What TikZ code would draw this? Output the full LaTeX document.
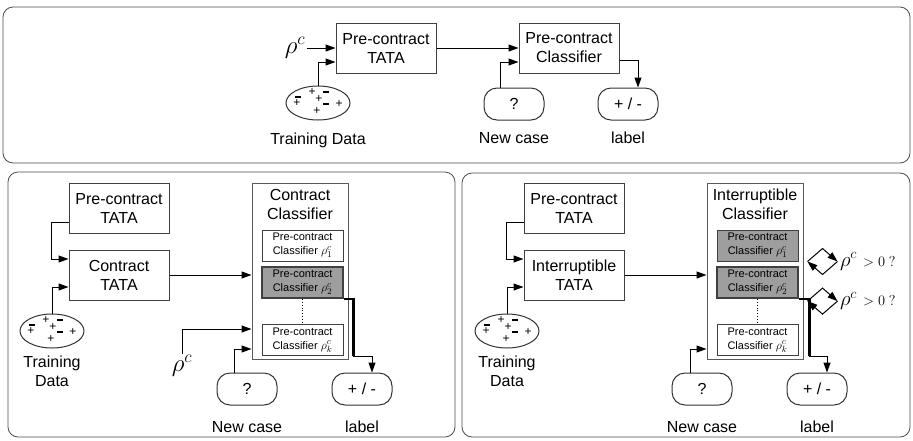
\documentclass[tikz,border=0pt]{standalone}
\usepackage[no-math]{fontspec}
\setmainfont{Liberation Sans}
\usetikzlibrary{arrows.meta,positioning,shapes.geometric,calc}

% scattered +/- signs inside a training data ellipse
\newcommand{\datasigns}[1]{%
\node[sgn] at ([shift={(-6,-11)}]#1.center) {+};
\node[sgn] at ([shift={(8,-11)}]#1.center) {\rule{6pt}{2pt}};
\node[sgn] at ([shift={(-20,-6)}]#1.center) {\rule{6pt}{2pt}};
\node[sgn] at ([shift={(-21,0)}]#1.center) {+};
\node[sgn] at ([shift={(1,-4)}]#1.center) {+};
\node[sgn] at ([shift={(8,1)}]#1.center) {\rule{6pt}{2pt}};
\node[sgn] at ([shift={(21,1)}]#1.center) {+};
\node[sgn] at ([shift={(-1,8)}]#1.center) {+};
}

\begin{document}
\begin{tikzpicture}[x=1pt, y=-1pt, >={Triangle[length=10pt,width=7pt]}, line width=1pt, font=\fontsize{16}{19}\selectfont]
\tikzstyle{panel}=[draw=black!70, rounded corners=10pt, line width=0.8pt]
\tikzstyle{tata}=[draw=black!75, minimum width=100pt, minimum height=50pt, align=center, inner sep=0pt]
\tikzstyle{outer}=[draw=black!65, minimum width=96pt, minimum height=176pt, inner sep=0pt]
\tikzstyle{ttl}=[align=center, inner sep=0pt]
\tikzstyle{sub}=[draw=black!75, minimum width=81pt, minimum height=31pt, align=center, inner sep=0pt, font=\fontsize{11}{14}\selectfont]
\tikzstyle{hit}=[fill=black!38]
\tikzstyle{thk}=[line width=2.6pt]
\tikzstyle{rbox}=[draw=black!80, rounded corners=13pt, minimum width=60pt, minimum height=32pt, inner sep=0pt]
\tikzstyle{data}=[draw=black!80, ellipse, minimum width=64pt, minimum height=34pt, inner sep=0pt]
\tikzstyle{sgn}=[inner sep=0pt, font=\fontsize{12}{12}\selectfont]
\tikzstyle{capt}=[align=center]
\tikzstyle{rho}=[inner sep=1pt, font=\fontsize{23}{23}\selectfont]
\tikzstyle{bigrho}=[inner sep=1pt, font=\fontsize{25}{25}\selectfont]
\useasboundingbox (0,0) rectangle (913,440);
%
% top: pre-contract
\draw[panel] (3,7) rectangle (910,163);
\node[tata]    (ptata) at (386,48)           {Pre-contract\\TATA};
\node[tata]    (pcls)  [right=82pt of ptata] {Pre-contract\\Classifier};
\node[rho]     (rho)   at (295,48)           {$\rho^c$};
\node[data]    (td)    at (318,103)          {};
\datasigns{td}
\node[capt]    (tdc)   [below=9pt of td]     {Training Data};
\node[rbox]    (q)     at (514,104)          {?};
\node[rbox]    (lab)   at (628,104)          {+ / -};
\node[capt]    (qc)    [below=8pt of q]      {New case};
\node[capt]    (labc)  [below=8pt of lab]    {label};
\draw[->] (rho.east) -- (rho.east -| ptata.west);
\draw[->] (td.north) |- ([yshift=-14pt]ptata.west);
\draw[->] (ptata) -- (pcls);
\draw[->] ([xshift=-14pt]q.north) |- ([yshift=-14pt]pcls.west);
\draw[->] ([yshift=-12pt]pcls.east) -| ([xshift=10pt]lab.north);
%
% bottom left: contract
\draw[panel] (8,172) rectangle (455,437);
\node[tata]    (lpt)   at (119,208)          {Pre-contract\\TATA};
\node[tata]    (lct)   [below=16pt of lpt]   {Contract\\TATA};
\node[data]    (ltd)   at (52,331)           {};
\datasigns{ltd}
\node[capt]    (ltdc)  [below=4pt of ltd]    {Training\\Data};
\node[outer]   (lcc)   at (300,271)          {};
\node[ttl]     (lcct)  [below=6pt of lcc.north] {Contract\\Classifier};
\node[sub]     (lc1)   at (302.5,245.5)      {Pre-contract\\Classifier {\fontsize{13}{13}\selectfont$\rho_1^c$}};
\node[sub,hit,thk] (lc2) [below=4pt of lc1]  {Pre-contract\\Classifier {\fontsize{13}{13}\selectfont$\rho_2^c$}};
\node[sub]     (lck)   [below=25pt of lc2]   {Pre-contract\\Classifier {\fontsize{13}{13}\selectfont$\rho_k^c$}};
\node[bigrho]  (lrho)  at (182,366)          {$\rho^c$};
\node[rbox]    (lq)    at (247,389)          {?};
\node[rbox]    (llab)  at (362,389)          {+ / -};
\node[capt]    (lqc)   [below=12pt of lq]    {New case};
\node[capt]    (llabc) [below=12pt of llab]  {label};
\draw[->] ([yshift=-14pt]lpt.west) -- ++(-17,0) |- ([yshift=16pt]lct.west);
\draw[->] (ltd.north) |- ([yshift=-12pt]lct.west);
\draw[->] (lct.east) -- (lct.east -| lcc.west);
\draw[->] (lrho.north) |- ([yshift=-58pt]lcc.west);
\draw[->] ([xshift=-13pt]lq.north) |- ([yshift=-78pt]lcc.west);
\draw[dotted, line width=0.8pt] (lc2) -- (lck);
\draw[thk] (lc2.south east) -- ++(9,0) coordinate (lbend) -- (lbend |- lck.south) coordinate (lout);
\draw[->] (lout) -| ([xshift=10pt]llab.north);
%
% bottom right: interruptible
\draw[panel] (462,173) rectangle (910,437);
\node[tata]    (rpt)   at (574,208)          {Pre-contract\\TATA};
\node[tata]    (rit)   [below=16pt of rpt]   {Interruptible\\TATA};
\node[data]    (rtd)   at (507,331)          {};
\datasigns{rtd}
\node[capt]    (rtdc)  [below=4pt of rtd]    {Training\\Data};
\node[outer]   (ric)   at (755,271)          {};
\node[ttl]     (rict)  [below=6pt of ric.north] {Interruptible\\Classifier};
\node[sub,hit] (r1)    at (757.5,245.5)      {Pre-contract\\Classifier {\fontsize{13}{13}\selectfont$\rho_1^c$}};
\node[sub,hit,thk] (r2) [below=4pt of r1]    {Pre-contract\\Classifier {\fontsize{13}{13}\selectfont$\rho_2^c$}};
\node[sub]     (rk)    [below=25pt of r2]    {Pre-contract\\Classifier {\fontsize{13}{13}\selectfont$\rho_k^c$}};
\node[rbox]    (rq)    at (702,389)          {?};
\node[rbox]    (rlab)  at (817,389)          {+ / -};
\node[capt]    (rqc)   [below=12pt of rq]    {New case};
\node[capt]    (rlabc) [below=12pt of rlab]  {label};
\draw[->] ([yshift=-14pt]rpt.west) -- ++(-17,0) |- ([yshift=16pt]rit.west);
\draw[->] (rtd.north) |- ([yshift=-12pt]rit.west);
\draw[->] (rit.east) -- (rit.east -| ric.west);
\draw[->] ([xshift=-12pt]rq.north) |- ([yshift=-78pt]ric.west);
\draw[dotted, line width=0.8pt] (r2) -- (rk);
\draw[thk] (r2.south east) -- ++(10,0) coordinate (rbend) -- (rbend |- rk.south) coordinate (rout);
\draw[->] (rout) -| ([xshift=10pt]rlab.north);
% check loops
\coordinate (d1) at ([xshift=19pt]ric.east |- r1.south);
\coordinate (d2) at ([xshift=19pt,yshift=-2pt]ric.east |- r2.south);
\foreach \d in {d1,d2}{
  \draw[->] ([xshift=-15pt]\d) -- ([yshift=13pt]\d) -- ([xshift=15pt]\d);
  \draw[->] ([xshift=15pt]\d) -- ([yshift=-13pt]\d) -- ([xshift=-15pt]\d);
}
\node[anchor=west, inner sep=1pt] (g1) at ([xshift=16pt]d1) {{\fontsize{22}{22}\selectfont$\rho^c$}\hspace{6pt}{\fontsize{14}{14}\selectfont$>0$ $?$}};
\node[anchor=west, inner sep=1pt] (g2) at ([xshift=16pt]d2) {{\fontsize{22}{22}\selectfont$\rho^c$}\hspace{6pt}{\fontsize{14}{14}\selectfont$>0$ $?$}};
\end{tikzpicture}
\end{document}
